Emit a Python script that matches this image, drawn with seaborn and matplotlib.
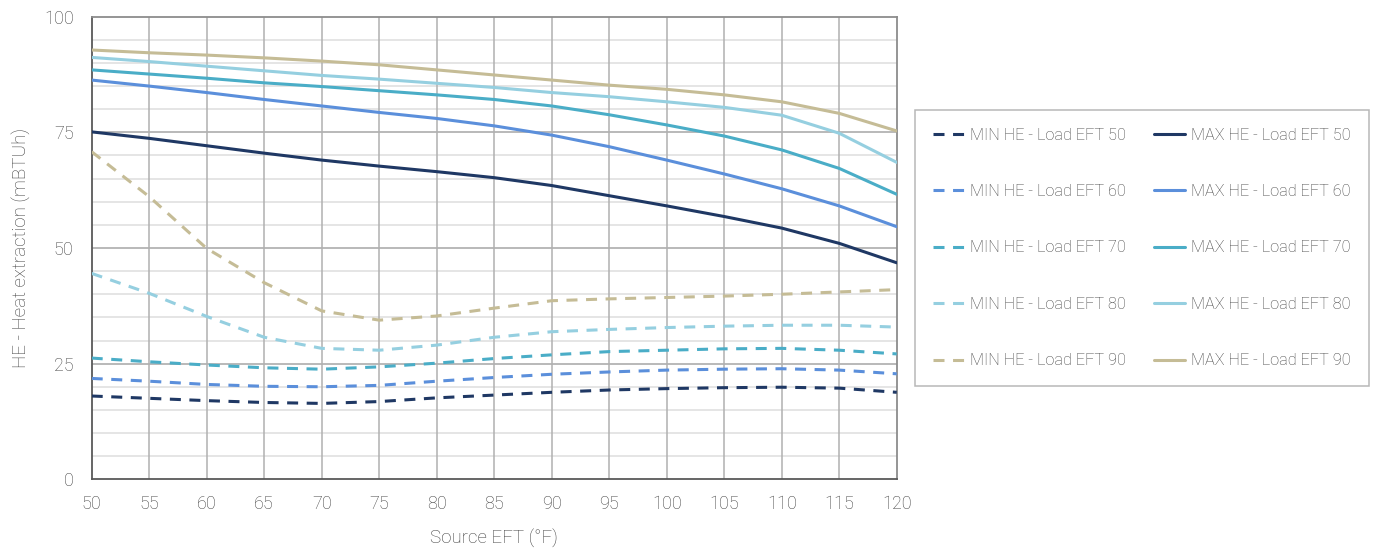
import numpy as np
import pandas as pd
import matplotlib
matplotlib.use("Agg")
import matplotlib.pyplot as plt
import seaborn as sns
from matplotlib.lines import Line2D

# Source entering fluid temperature (°F)
source_eft = [50, 55, 60, 65, 70, 75, 80, 85, 90, 95, 100, 105, 110, 115, 120]

# Maximum heat extraction (mBTUh) per load EFT
max_he_50 = [75.1, 73.7, 72.1, 70.5, 69.0, 67.7, 66.5, 65.2, 63.5, 61.3, 59.1, 56.8, 54.3, 51.0, 46.8]
max_he_60 = [86.3, 85.0, 83.6, 82.1, 80.7, 79.3, 78.0, 76.4, 74.4, 71.9, 69.0, 66.0, 62.8, 59.1, 54.6]
max_he_70 = [88.5, 87.6, 86.7, 85.7, 84.9, 84.0, 83.1, 82.1, 80.7, 78.8, 76.6, 74.2, 71.2, 67.2, 61.6]
max_he_80 = [91.2, 90.3, 89.3, 88.3, 87.3, 86.5, 85.6, 84.7, 83.6, 82.7, 81.6, 80.4, 78.7, 74.8, 68.5]
max_he_90 = [92.8, 92.2, 91.7, 91.1, 90.4, 89.6, 88.5, 87.4, 86.3, 85.2, 84.3, 83.1, 81.6, 79.1, 75.3]

# Minimum heat extraction (mBTUh) per load EFT
min_he_50 = [18.0, 17.5, 17.0, 16.6, 16.4, 16.8, 17.6, 18.2, 18.8, 19.3, 19.6, 19.8, 19.9, 19.7, 18.8]
min_he_60 = [21.8, 21.2, 20.5, 20.1, 20.0, 20.3, 21.2, 22.0, 22.7, 23.2, 23.6, 23.8, 23.9, 23.6, 22.8]
min_he_70 = [26.2, 25.4, 24.7, 24.1, 23.8, 24.3, 25.1, 26.1, 26.9, 27.6, 27.9, 28.2, 28.3, 27.9, 27.1]
min_he_80 = [44.5, 40.2, 35.2, 30.7, 28.3, 27.9, 29.0, 30.7, 31.9, 32.4, 32.8, 33.1, 33.3, 33.3, 32.9]
min_he_90 = [70.8, 61.1, 49.9, 42.5, 36.4, 34.4, 35.3, 37.0, 38.6, 39.0, 39.3, 39.6, 40.0, 40.5, 41.0]

load_efts = [50, 60, 70, 80, 90]
max_series = [max_he_50, max_he_60, max_he_70, max_he_80, max_he_90]
min_series = [min_he_50, min_he_60, min_he_70, min_he_80, min_he_90]
colors = ["#1F3864", "#5B8FDB", "#4AADC7", "#95CFE0", "#C5BC96"]

x_ticks = list(range(50, 121, 5))
y_ticks = [0, 25, 50, 75, 100]

sns.set_theme(style="white")
plt.rcParams["font.family"] = ["Roboto", "DejaVu Sans"]
plt.rcParams["font.weight"] = "light"
plt.rcParams["axes.labelweight"] = "light"
text_color = "#404040"

fig = plt.figure(figsize=(13.79, 5.49), dpi=100)
ax = fig.add_axes([0.0665, 0.127, 0.5838, 0.8426])

# Grid: light lines every 5 units, darker ones at the labelled ticks
for v in range(5, 100, 5):
    if v % 25 == 0:
        ax.axhline(v, color="#A6A6A6", lw=1.1, zorder=0)
    else:
        ax.axhline(v, color="#DEDEDE", lw=1.1, zorder=0)
for v in x_ticks[1:-1]:
    ax.axvline(v, color="#B0B0B0", lw=1.1, zorder=0)

dash = (3.6, 2.8)
handles_min, handles_max = [], []
for eft, col, mn, mx in zip(load_efts, colors, min_series, max_series):
    df_min = pd.DataFrame({"eft": source_eft, "he": mn})
    df_max = pd.DataFrame({"eft": source_eft, "he": mx})
    sns.lineplot(data=df_min, x="eft", y="he", ax=ax, color=col, lw=2.2,
                 linestyle=(0, dash), zorder=3)
    sns.lineplot(data=df_max, x="eft", y="he", ax=ax, color=col, lw=2.2, zorder=3)
    handles_min.append(Line2D([], [], color=col, lw=2.2, linestyle=(0, dash),
                              label=f"MIN HE - Load EFT {eft}"))
    handles_max.append(Line2D([], [], color=col, lw=2.2,
                              label=f"MAX HE - Load EFT {eft}"))

ax.set_xlim(50, 120)
ax.set_ylim(0, 100)
ax.set_xticks(x_ticks)
ax.set_yticks(y_ticks)
ax.tick_params(axis="both", length=0, labelsize=13, colors=text_color)
ax.tick_params(axis="x", pad=11)
ax.tick_params(axis="y", pad=13)
ax.set_xlabel("Source EFT (°F)", fontsize=13.5, color=text_color, labelpad=12)
ax.set_ylabel("HE - Heat extraction (mBTUh)", fontsize=13.5, color=text_color, labelpad=9)

for side in ["left", "bottom"]:
    ax.spines[side].set_color("#595959")
    ax.spines[side].set_linewidth(1.3)
for side in ["top", "right"]:
    ax.spines[side].set_color("#8C8C8C")
    ax.spines[side].set_linewidth(1.3)

leg = fig.legend(handles=handles_min + handles_max, ncol=2,
                 loc="center left", bbox_to_anchor=(915 / 1379, 1 - 248 / 549),
                 fontsize=11.7, frameon=True, fancybox=False,
                 handlelength=1.95, handletextpad=0.35, columnspacing=1.7,
                 labelspacing=2.55, borderpad=1.1, borderaxespad=0)
leg.get_frame().set_edgecolor("#A6A6A6")
leg.get_frame().set_linewidth(1.1)
for t in leg.get_texts():
    t.set_color(text_color)

fig.savefig("out.png", dpi=100, facecolor="white")
